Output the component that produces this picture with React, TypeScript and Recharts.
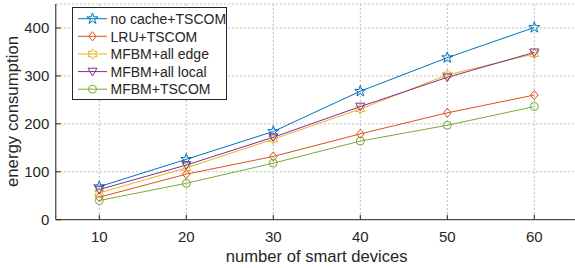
import React from 'react';
import { LineChart, Line, XAxis, YAxis, CartesianGrid, Legend, Label } from 'recharts';

const devices = [10, 20, 30, 40, 50, 60];
const noCacheTSCOM = [69, 126, 184, 268, 338, 401];
const lruTSCOM = [47, 95, 132, 179, 223, 260];
const mfbmAllEdge = [56, 108, 168, 231, 302, 346];
const mfbmAllLocal = [63, 114, 172, 236, 297, 349];
const mfbmTSCOM = [40, 76, 118, 164, 197, 236];

const xTicks = [10, 20, 30, 40, 50, 60];
const yTicks = [0, 100, 200, 300, 400];

const series = [
  { key: 'noCache', name: 'no cache+TSCOM', color: '#0072BD', marker: 'star', values: noCacheTSCOM },
  { key: 'lru', name: 'LRU+TSCOM', color: '#D95319', marker: 'diamond', values: lruTSCOM },
  { key: 'allEdge', name: 'MFBM+all edge', color: '#EDB120', marker: 'hexagram', values: mfbmAllEdge },
  { key: 'allLocal', name: 'MFBM+all local', color: '#7E2F8E', marker: 'triangleDown', values: mfbmAllLocal },
  { key: 'mfbm', name: 'MFBM+TSCOM', color: '#77AC30', marker: 'circle', values: mfbmTSCOM },
];

const data = devices.map((d, i) => {
  const row: any = { devices: d };
  series.forEach((s) => { row[s.key] = s.values[i]; });
  return row;
});

const FONT = '"Liberation Sans", Arial, Helvetica, sans-serif';
const TEXT = '#262626';

function starPoints(cx: number, cy: number, n: number, R: number, r: number, rot: number) {
  const pts: string[] = [];
  for (let i = 0; i < n * 2; i++) {
    const rad = i % 2 === 0 ? R : r;
    const a = rot + (Math.PI * i) / n;
    pts.push(`${(cx + rad * Math.sin(a)).toFixed(2)},${(cy - rad * Math.cos(a)).toFixed(2)}`);
  }
  return pts.join(' ');
}

function Marker({ kind, cx, cy, color }: { kind: string; cx: number; cy: number; color: string }) {
  const common = { fill: 'none', stroke: color, strokeWidth: 1 };
  if (kind === 'star') return <polygon points={starPoints(cx, cy, 5, 5.8, 2.3, 0)} {...common} />;
  if (kind === 'hexagram') return <polygon points={starPoints(cx, cy, 6, 5.2, 3.0, 0)} {...common} />;
  if (kind === 'diamond')
    return <polygon points={`${cx},${cy - 4.6} ${cx + 3.8},${cy} ${cx},${cy + 4.6} ${cx - 3.8},${cy}`} {...common} />;
  if (kind === 'triangleDown')
    return <polygon points={`${cx - 4.5},${cy - 3.4} ${cx + 4.5},${cy - 3.4} ${cx},${cy + 4.4}`} {...common} />;
  return <circle cx={cx} cy={cy} r={4} {...common} />;
}

function LegendBox() {
  const rowY = [11.7, 29.3, 47, 64.6, 82.2];
  return (
    <div style={{ width: 155, height: 93, border: `1px solid ${TEXT}`, background: '#fff', boxSizing: 'border-box' }}>
      <svg width={153} height={91} style={{ display: 'block' }}>
        {series.map((s, i) => (
          <g key={s.key}>
            <line x1={5} x2={34} y1={rowY[i] - 1} y2={rowY[i] - 1} stroke={s.color} strokeWidth={1} />
            <Marker kind={s.marker} cx={19.5} cy={rowY[i] - 1} color={s.color} />
            <text x={37.5} y={rowY[i] + 4.2} fontSize={14} fontFamily={FONT} fill={TEXT}>
              {s.name}
            </text>
          </g>
        ))}
      </svg>
    </div>
  );
}

export default function App() {
  return (
    <div style={{ position: 'fixed', left: 0, top: 0, width: 575, height: 268, overflow: 'hidden', background: '#fff' }}>
      <LineChart
        width={600}
        height={268}
        data={data}
        margin={{ top: 4, right: 22.2, bottom: 0, left: 0 }}
      >
        <CartesianGrid xAxisId="b" yAxisId="l" stroke="#bdbdbd" strokeDasharray="2 2" />
        <XAxis
          xAxisId="b"
          dataKey="devices"
          type="number"
          domain={[5, 65]}
          ticks={xTicks}
          height={48.3}
          stroke={TEXT}
          tickSize={-5}
          tickMargin={16.9}
          tick={{ fill: TEXT, fontSize: 15, fontFamily: FONT }}
          allowDataOverflow
        >
          <Label
            content={() => (
              <text x={316.7} y={261.7} textAnchor="middle" fontSize={16.6} fontFamily={FONT} fill={TEXT}>
                number of smart devices
              </text>
            )}
          />
        </XAxis>
        <XAxis
          xAxisId="t"
          orientation="top"
          dataKey="devices"
          type="number"
          domain={[5, 65]}
          ticks={xTicks}
          height={0}
          stroke={TEXT}
          tickSize={5}
          tick={false}
        />
        <YAxis
          yAxisId="l"
          type="number"
          domain={[0, 450]}
          ticks={yTicks}
          width={55.8}
          stroke={TEXT}
          tickSize={-5}
          tickMargin={11.5}
          tick={{ fill: TEXT, fontSize: 15, fontFamily: FONT }}
          allowDataOverflow
        >
          <Label
            content={() => (
              <text
                x={18}
                y={111.5}
                transform="rotate(-90, 18, 111.5)"
                textAnchor="middle"
                fontSize={16.8}
                fontFamily={FONT}
                fill={TEXT}
              >
                energy consumption
              </text>
            )}
          />
        </YAxis>
        <YAxis
          yAxisId="r"
          orientation="right"
          type="number"
          domain={[0, 450]}
          ticks={yTicks}
          width={0}
          stroke={TEXT}
          tickSize={5}
          tick={false}
        />
        <Legend
          layout="horizontal"
          verticalAlign="middle"
          align="center"
          content={() => <LegendBox />}
          wrapperStyle={{ position: 'absolute', left: 72.3, top: 7.3, width: 155, height: 93 }}
        />
        {series.map((s) => (
          <Line
            key={s.key}
            xAxisId="b"
            yAxisId="l"
            dataKey={s.key}
            name={s.name}
            stroke={s.color}
            strokeWidth={1}
            isAnimationActive={false}
            dot={(p: any) => <Marker key={`${s.key}-${p.index}`} kind={s.marker} cx={p.cx} cy={p.cy} color={s.color} />}
            activeDot={false}
          />
        ))}
      </LineChart>
    </div>
  );
}
